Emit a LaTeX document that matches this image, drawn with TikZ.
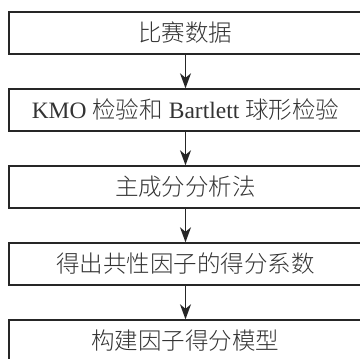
\documentclass[tikz,border=0pt]{standalone}
\usepackage{fontspec}
\setmainfont{Liberation Serif}
\newfontfamily\cjk{Noto Sans CJK SC Light}
\usetikzlibrary{arrows.meta}
\begin{document}
\begin{tikzpicture}[x=1pt,y=1pt,
  stepbox/.style={draw=black!85, line width=1.4pt, minimum width=353pt, minimum height=42pt, inner sep=0pt, text=black!80, font=\fontsize{23.5}{25}\selectfont},
  flow/.style={draw=black!85, line width=1.4pt, -{Stealth[length=15pt,width=11pt,inset=4.5pt]}}]
\useasboundingbox (0,0) rectangle (360,-359);
\clip (0,0) rectangle (360,-359);
\node[stepbox] (b1) at (185.5,-33) {\raisebox{-3pt}{\cjk 比赛数据}};
\node[stepbox] (b2) at (185.5,-110) {\raisebox{-3pt}{KMO {\cjk 检验和} Bartlett {\cjk 球形检验}}};
\node[stepbox] (b3) at (185.5,-187) {\raisebox{-3pt}{\cjk 主成分分析法}};
\node[stepbox] (b4) at (185.5,-264) {\raisebox{-3pt}{\cjk 得出共性因子的得分系数}};
\node[stepbox] (b5) at (185.5,-341) {\raisebox{-3pt}{\cjk 构建因子得分模型}};
\draw[flow] (b1) -- (b2);
\draw[flow] (b2) -- (b3);
\draw[flow] (b3) -- (b4);
\draw[flow] (b4) -- (b5);
\end{tikzpicture}
\end{document}
